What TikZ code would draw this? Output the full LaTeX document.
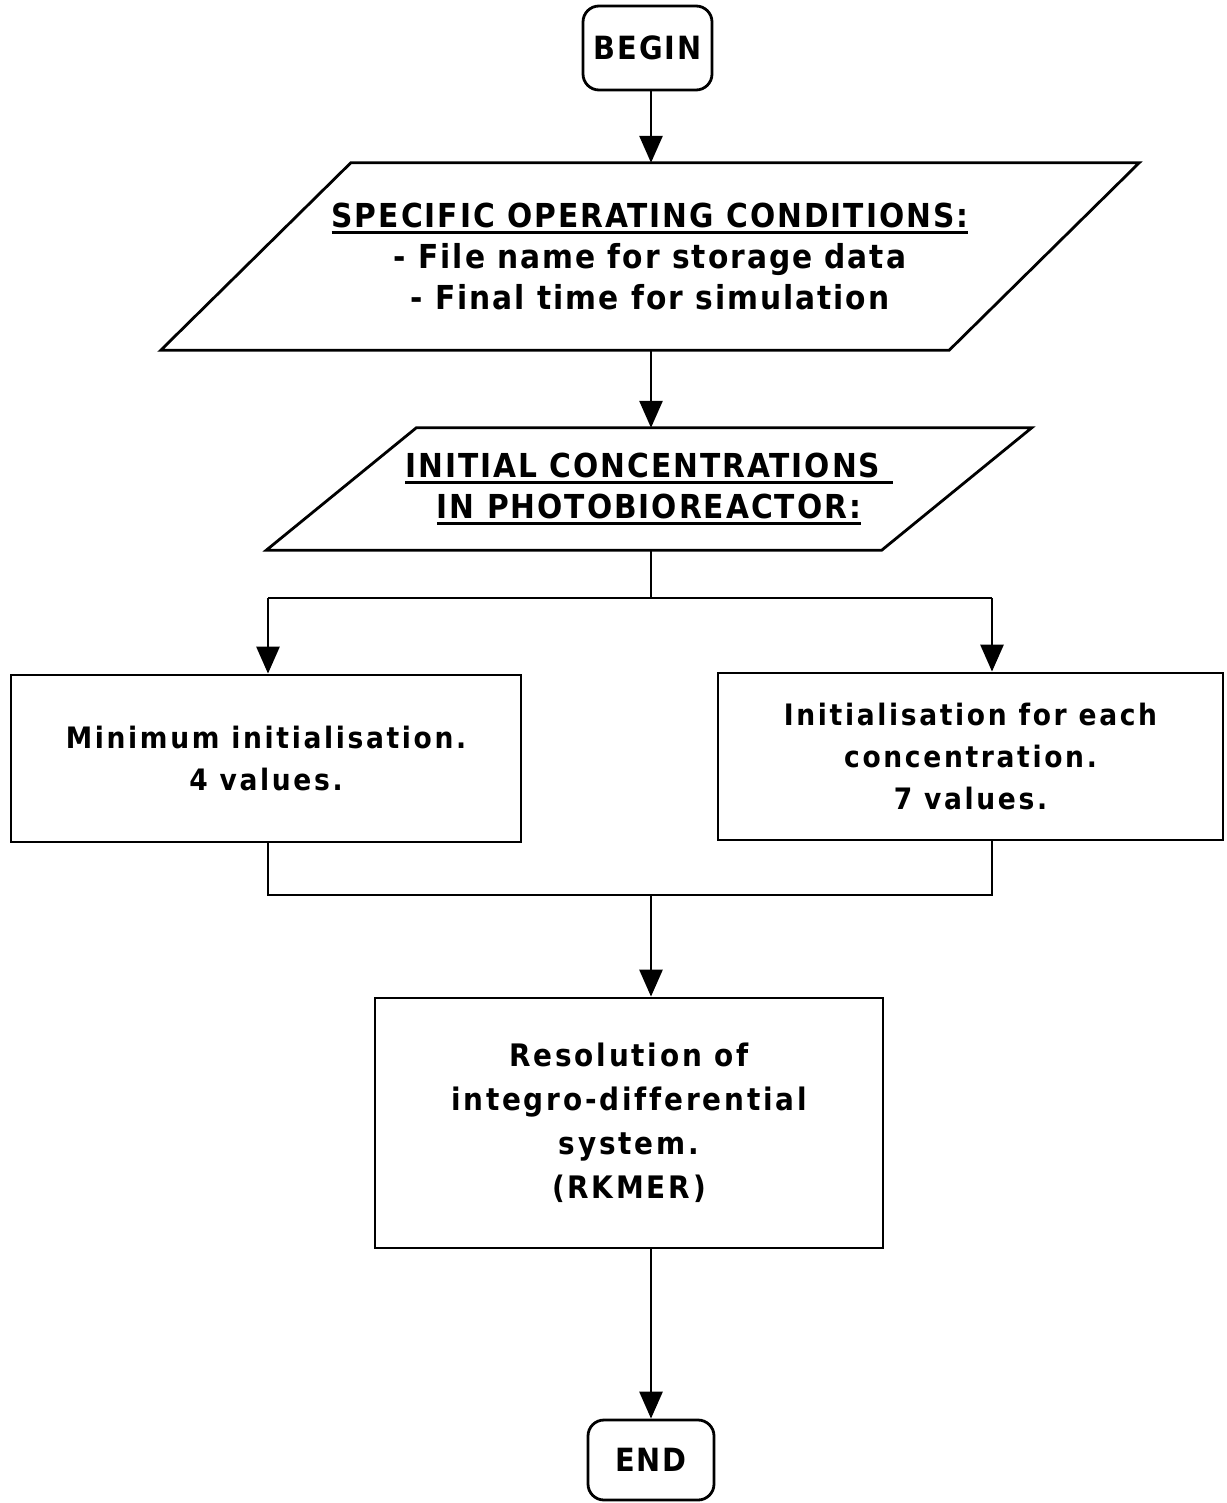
\documentclass[tikz,border=0pt]{standalone}
\usepackage{fontspec}
\setmainfont{DejaVu Sans Condensed}[BoldFont={DejaVu Sans Condensed Bold}]
\usetikzlibrary{arrows.meta,calc}

% thick underline used for the headings
\newcommand\ulbar[1]{\setbox0\hbox{#1}\rlap{\rule[-6pt]{\wd0}{2.8pt}}\box0}
\newfontfamily\boxfont{DejaVu Sans Condensed Bold}[LetterSpace=9,Ligatures=NoCommon]
\newfontfamily\headfont{DejaVu Sans Condensed Bold}[LetterSpace=6,Ligatures=NoCommon]

\tikzset{
  line/.style={line width=2.8pt},
  arr/.style={line, -{Triangle[length=27pt,width=23pt]}},
  terminal/.style={line, draw, rounded corners=16pt, align=center,
    font=\headfont\fontsize{32}{38}\selectfont},
  procbox/.style={line, draw, align=center,
    font=\boxfont\fontsize{29.5}{42}\selectfont},
  iobox/.style={align=center, inner sep=0pt,
    font=\headfont\fontsize{33}{41}\selectfont},
}

\begin{document}
\begin{tikzpicture}[x=1pt,y=-1pt]
\useasboundingbox (0,0) rectangle (1226,1503);

% terminals
\node[terminal, minimum width=129pt, minimum height=84pt] (begin) at (647.5,48) {BEGIN};
\node[terminal, minimum width=126pt, minimum height=80pt] (end) at (651,1460) {END};

% input/output parallelograms (text nodes, outlines drawn from their corners)
\node[iobox, minimum width=788pt, minimum height=187pt] (cond) at (650,256.5)
  {\ulbar{SPECIFIC OPERATING CONDITIONS:}\\
   - File name for storage data\\
   - Final time for simulation};
\draw[line, line join=miter]
  ($(cond.north west)+(95,0)$) -- ($(cond.north east)+(95,0)$) --
  ($(cond.south east)-(95,0)$) -- ($(cond.south west)-(95,0)$) -- cycle;

\node[iobox, minimum width=615pt, minimum height=122pt] (conc) at (649,489)
  {\ulbar{INITIAL CONCENTRATIONS\ }\\
   \ulbar{IN PHOTOBIOREACTOR:}};
\draw[line, line join=miter]
  ($(conc.north west)+(75,0)$) -- ($(conc.north east)+(75,0)$) --
  ($(conc.south east)-(75,0)$) -- ($(conc.south west)-(75,0)$) -- cycle;

% process boxes
\node[procbox, minimum width=510pt, minimum height=167pt] (mini) at (266,758.5)
  {Minimum initialisation.\\ 4 values.};
\node[procbox, minimum width=505pt, minimum height=167pt] (each) at (970.5,756.5)
  {Initialisation for each\\ concentration.\\ 7 values.};
\node[procbox, minimum width=508pt, minimum height=250pt,
      font=\boxfont\fontsize{31}{44}\selectfont] (rkmer) at (629,1123)
  {Resolution of\\ integro-differential\\ system.\\ (RKMER)};

% branch and merge points
\coordinate (split) at (651,598);
\coordinate (splitL) at (268,598);
\coordinate (splitR) at (992,598);
\coordinate (joinL) at (268,895);
\coordinate (joinR) at (992,895);
\coordinate (join) at (651,895);

% connectors
\draw[arr] (begin.south -| split) -- (cond.north -| split);
\draw[arr] (cond.south -| split) -- (conc.north -| split);
\draw[line] (conc.south -| split) -- (split);
\draw[line] (splitL) -- (splitR);
\draw[arr] (splitL) -- (mini.north -| splitL);
\draw[arr] (splitR) -- (each.north -| splitR);
\draw[line] (mini.south -| joinL) -- (joinL) -- (joinR) -- (each.south -| joinR);
\draw[arr] (join) -- (rkmer.north -| join);
\draw[arr] (rkmer.south -| join) -- (end.north -| join);
\end{tikzpicture}
\end{document}
